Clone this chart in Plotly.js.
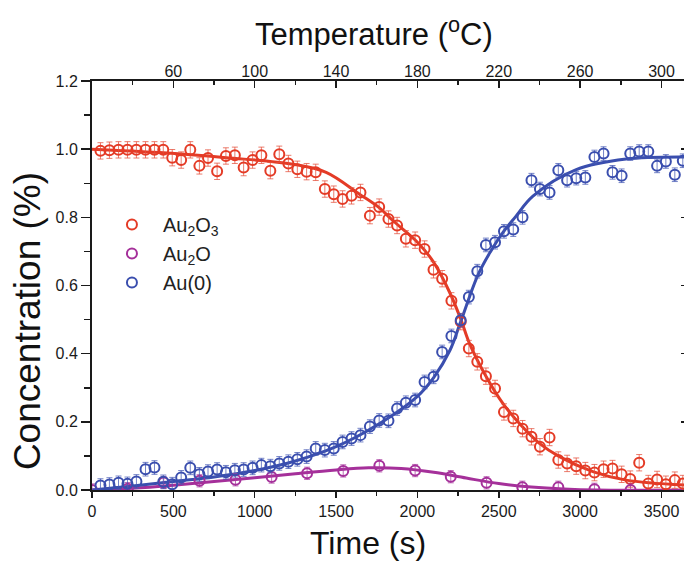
<!DOCTYPE html>
<html>
<head>
<meta charset="utf-8">
<script src="https://cdn.plot.ly/plotly-3.0.1.min.js"></script>
<style>
html,body{margin:0;padding:0;overflow:hidden;background:#fff;}
#chart{width:688px;height:564px;}
</style>
</head>
<body>
<div id="chart"></div>
<script>
// ---- data ----
const timeDense = [52,107,163,218,273,329,384,438,493,548,604,660,713,769,823,878,932,987,1041,1096,1151,1207,1262,1319,1375,1431,1486,1540,1595,1650,1708,1765,1822,1875,1929,1986,2044,2099,2152,2209,2266,2316,2368,2421,2477,2532,2589,2646,2701,2753,2812,2866,2920,2976,3032,3088,3144,3199,3255,3308,3363,3419,3473,3527,3582,3631];
const au2o3 = [0.995,0.997,0.998,0.998,0.998,0.998,0.998,0.998,0.975,0.968,0.998,0.951,0.974,0.935,0.980,0.982,0.946,0.968,0.982,0.937,0.985,0.958,0.941,0.934,0.932,0.883,0.868,0.854,0.863,0.873,0.805,0.830,0.795,0.776,0.737,0.733,0.707,0.646,0.620,0.555,0.494,0.415,0.376,0.334,0.298,0.229,0.210,0.180,0.156,0.127,0.154,0.088,0.078,0.070,0.057,0.051,0.061,0.063,0.046,0.032,0.080,0.019,0.031,0.017,0.029,0.019];
const au0 = [0.013,0.016,0.021,0.018,0.025,0.061,0.066,0.024,0.017,0.037,0.065,0.046,0.054,0.060,0.052,0.058,0.060,0.065,0.073,0.070,0.078,0.083,0.090,0.098,0.122,0.117,0.122,0.141,0.151,0.161,0.186,0.204,0.203,0.239,0.256,0.264,0.317,0.332,0.405,0.452,0.498,0.566,0.642,0.719,0.727,0.759,0.764,0.800,0.909,0.883,0.873,0.938,0.909,0.915,0.917,0.977,0.987,0.932,0.922,0.987,0.993,0.993,0.951,0.964,0.925,0.966];
const timeSparse = [0,220,441,661,882,1104,1322,1544,1766,1986,2205,2425,2645,2866,3088,3310];
const au2o = [0.0,0.004,0.022,0.027,0.030,0.038,0.049,0.056,0.071,0.057,0.039,0.021,0.008,0.008,0.002,0.0];

const errAu2o3 = 0.024;
const errAu0 = 0.02;
const errAu2o = 0.018;

// fitted curves
const fitTimeAu2o3 = [0,415,825,1234,1439,1644,1763,1850,2000,2100,2200,2269,2320,2423,2525,2627,2750,2873,3078,3283,3660];
const fitAu2o3 = [1.0,0.99,0.975,0.956,0.932,0.868,0.829,0.79,0.727,0.668,0.578,0.498,0.43,0.332,0.254,0.195,0.137,0.098,0.054,0.029,0.014];
const fitTimeAu0 = [0,250,500,750,1000,1250,1500,1750,2000,2100,2200,2263,2371,2450,2525,2600,2710,2976,3283,3660];
const fitAu0 = [0.0,0.012,0.025,0.038,0.057,0.085,0.127,0.19,0.275,0.33,0.41,0.49,0.63,0.70,0.755,0.80,0.862,0.94,0.971,0.977];
const fitTimeAu2o = [0,250,500,750,1000,1250,1500,1700,1900,2100,2300,2500,2700,2900,3100,3660];
const fitAu2o = [0,0.005,0.014,0.025,0.036,0.048,0.059,0.065,0.063,0.052,0.035,0.019,0.009,0.003,0.0,0.0];

const timeTicks = [0,500,1000,1500,2000,2500,3000,3500];
const tempTicks = [60,100,140,180,220,260,300];
const yTicks = [0,0.2,0.4,0.6,0.8,1.0,1.2];
const tempAtStart = 20;    // °C at t = 0 s
const tempAt3500 = 300;    // °C at t = 3500 s
const timeMax = 3663;

const names = ['Au<sub>2</sub>O<sub>3</sub>','Au<sub>2</sub>O','Au(0)'];
const RED = '#e43b26', PURPLE = '#a5309a', BLUE = '#3a4eae';
const RED_E = 'rgba(228,80,60,0.75)', PURPLE_E = 'rgba(170,60,160,0.75)', BLUE_E = 'rgba(70,90,180,0.75)';

const font = 'Liberation Sans, Arial, Helvetica, sans-serif';

function pts(x, y, err, name, col, ecol, grp) {
  return {x: x, y: y, type: 'scatter', mode: 'markers', name: name, legendgroup: grp,
    marker: {symbol: 'circle-open', size: 10, color: col, line: {width: 2, color: col}},
    error_y: {type: 'constant', value: err, color: ecol, thickness: 1, width: 3},
    hoverinfo: 'x+y'};
}
function fit(x, y, col, grp) {
  return {x: x, y: y, type: 'scatter', mode: 'lines', showlegend: false, legendgroup: grp,
    line: {color: col, width: 3, shape: 'spline', smoothing: 1}, hoverinfo: 'skip'};
}

const tempRate = (tempAt3500 - tempAtStart) / 3500;
const tempRange = [tempAtStart, tempAtStart + timeMax * tempRate];

const traces = [
  fit(fitTimeAu2o3, fitAu2o3, RED, 'a'),
  fit(fitTimeAu2o, fitAu2o, PURPLE, 'b'),
  fit(fitTimeAu0, fitAu0, BLUE, 'c'),
  pts(timeDense, au2o3, errAu2o3, names[0], RED, RED_E, 'a'),
  pts(timeSparse, au2o, errAu2o, names[1], PURPLE, PURPLE_E, 'b'),
  pts(timeDense, au0, errAu0, names[2], BLUE, BLUE_E, 'c'),
  // carrier for the temperature (top) and right mirror axes
  {x: [tempTicks[0]], y: [null], xaxis: 'x2', yaxis: 'y2', type: 'scatter', mode: 'markers',
   showlegend: false, hoverinfo: 'skip', marker: {opacity: 0}}
];

const axisCommon = {showgrid: false, zeroline: false, showline: true, linecolor: '#1a1a1a', linewidth: 2,
  tickcolor: '#1a1a1a', tickwidth: 1.5, tickfont: {family: font, size: 16, color: '#1a1a1a'}};

const layout = {
  width: 688, height: 564,
  margin: {l: 92, r: 0, t: 81, b: 74, pad: 0},
  paper_bgcolor: '#fff', plot_bgcolor: '#fff',
  showlegend: true,
  legend: {x: 0.015, y: 0.697, xanchor: 'left', yanchor: 'top', bgcolor: 'rgba(0,0,0,0)',
    font: {family: font, size: 20, color: '#222'}, tracegroupgap: 0, traceorder: 'grouped',
    itemwidth: 52},
  xaxis: Object.assign({}, axisCommon, {range: [0, timeMax], tickmode: 'array', tickvals: timeTicks,
    ticks: 'outside', ticklen: 6,
    minor: {dtick: 250, tick0: 0, ticks: 'outside', ticklen: 4, tickcolor: '#1a1a1a', tickwidth: 1.5}}),
  yaxis: Object.assign({}, axisCommon, {range: [0, 1.2], tickmode: 'array', tickvals: yTicks,
    tickformat: '.1f', ticks: 'outside', ticklen: 9,
    minor: {dtick: 0.1, tick0: 0, ticks: 'outside', ticklen: 6, tickcolor: '#1a1a1a', tickwidth: 1.5}}),
  xaxis2: Object.assign({}, axisCommon, {overlaying: 'x', side: 'top', anchor: 'y', range: tempRange,
    tickmode: 'array', tickvals: tempTicks, ticks: 'inside', ticklen: 7, ticklabelstandoff: -4,
    minor: {dtick: 20, tick0: 0, ticks: 'inside', ticklen: 4, tickcolor: '#1a1a1a', tickwidth: 1.5}}),
  yaxis2: Object.assign({}, axisCommon, {overlaying: 'y', side: 'right', anchor: 'x', range: [0, 1.2],
    tickmode: 'array', tickvals: yTicks, showticklabels: false, ticks: 'inside', ticklen: 7,
    minor: {dtick: 0.1, tick0: 0, ticks: 'inside', ticklen: 4, tickcolor: '#1a1a1a', tickwidth: 1.5}}),
  annotations: [
    {text: 'Temperature (<sup>o</sup>C)', xref: 'paper', yref: 'paper', x: 0.473, y: 1.12,
     xanchor: 'center', yanchor: 'middle', showarrow: false, font: {family: font, size: 31, color: '#111'}},
    {text: 'Time (s)', xref: 'paper', yref: 'paper', x: 0.463, y: -0.13,
     xanchor: 'center', yanchor: 'middle', showarrow: false, font: {family: font, size: 32, color: '#111'}},
    {text: 'Concentration (%)', xref: 'paper', yref: 'paper', x: -0.109, y: 0.413, textangle: -90,
     xanchor: 'center', yanchor: 'middle', showarrow: false, font: {family: font, size: 37, color: '#111'}}
  ]
};

Plotly.newPlot('chart', traces, layout, {displayModeBar: false, staticPlot: true});
</script>
</body>
</html>
